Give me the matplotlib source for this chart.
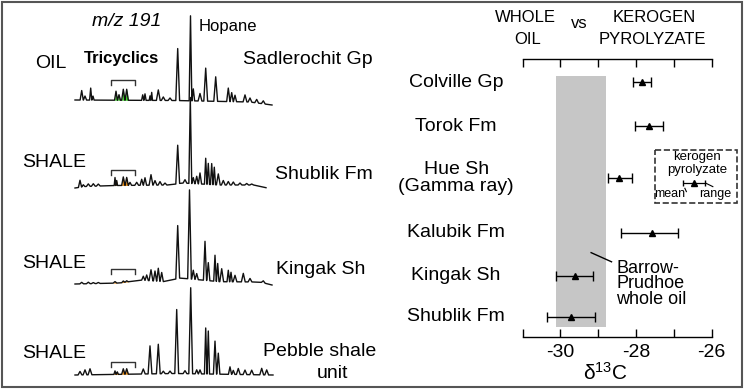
import numpy as np
import matplotlib
matplotlib.use("Agg")
import matplotlib.pyplot as plt
from matplotlib.patches import Rectangle

plt.rcParams["font.family"] = ["Liberation Sans", "DejaVu Sans"]
plt.rcParams["mathtext.fontset"] = "custom"
plt.rcParams["mathtext.rm"] = "Liberation Sans"
plt.rcParams["mathtext.it"] = "Liberation Sans:italic"

# ---- m/z 191 fragmentograms: peak retention (scan units) and height (abundance units)
oil_rt = [6.7, 10, 15.7, 18, 41, 44, 48.3, 51.7, 67.7, 70, 75, 76.7, 83.3, 88.3, 95,
          102.7, 115.5, 118.3, 125, 130.7, 140.7, 153.3, 156.7, 160, 170, 175, 181.7, 188.3]
oil_h = [9.5, 4, 12, 4, 9, 5.5, 11, 11, 5.5, 6.5, 4.5, 8, 10.5, 3.5, 2.5,
         52, 85, 12, 7.5, 33, 24.5, 13.5, 9, 6.5, 7, 4, 3.5, 3]
oil_drift_rt = [0, 100, 175, 197]
oil_drift = [0, -0.5, -2, -5]

shublik_rt = [5, 8.3, 13.3, 18.3, 23.3, 40, 41.7, 48.3, 51.7, 55, 61.7, 66.7, 70, 76, 80, 85, 90,
              102.7, 110, 115.3, 118.3, 121.7, 125, 130.7, 133.3, 136.7, 139.3, 143.3, 148.3,
              153.3, 158.3, 165, 171.7, 176.7]
shublik_h = [7, 2, 2.5, 2.5, 2, 8, 5, 8.5, 8, 3, 3, 6, 7.5, 10.5, 4.5, 3.5, 2,
             38.5, 3.5, 86, 6, 7.5, 11, 26, 21, 21, 17.5, 11, 4.5,
             3.5, 3, 2, 1.5, 1]
shublik_drift_rt = [0, 10, 40, 95, 107, 145, 185, 191]
shublik_drift = [0, 1.5, 2.5, 3, 5, 3, 3, 0.3]

kingak_rt = [6.7, 13.3, 18.3, 23.3, 40, 48.3, 51.7, 68.3, 71.7, 76, 80, 83.3, 86.7,
             102.7, 114.5, 118.3, 121.7, 130, 133.3, 140, 142.7, 146.7, 153.3, 156, 160,
             168.3, 175, 188.3]
kingak_h = [1.5, 1.5, 1, 1, 1.5, 1.5, 1.2, 4, 5.5, 11, 10, 13, 9,
            53, 89, 9, 6, 39, 18, 26, 18, 13, 11.5, 9.5, 6.5,
            8.5, 3.5, 2]
kingak_drift_rt = [0, 45, 65, 90, 105, 145, 185, 197]
kingak_drift = [0, 1, 4, 2.3, 6, 2.3, 2, -1]

pebble_rt = [5, 10, 15, 40, 42.3, 48.3, 51.7, 68.3, 75, 83.3, 88.3, 95, 101.7, 110, 115.7,
             121.7, 125, 130.7, 133.3, 140, 143.3, 155, 158.3, 163.3, 170, 176.7, 186.7, 191.7]
pebble_h = [3.5, 5, 6, 3.5, 2.5, 5.5, 5.5, 5, 28, 29.5, 2.5, 2.5, 64, 3, 86,
            4, 4, 46, 43, 33, 21, 7.5, 4, 6, 4.5, 4.5, 6.5, 5]
pebble_drift_rt = [0, 100, 198]
pebble_drift = [0, 1.5, 0]

trace_end = [197, 191, 197, 198]
tricyclic_window = (38, 54)

# ---- carbon isotopes
units = ["Colville Gp", "Torok Fm", "Hue Sh\n(Gamma ray)", "Kalubik Fm", "Kingak Sh", "Shublik Fm"]
d13c_mean = [-27.85, -27.65, -28.44, -27.58, -29.62, -29.72]
d13c_min = [-28.09, -28.04, -28.74, -28.39, -30.11, -30.37]
d13c_max = [-27.60, -27.30, -28.11, -26.89, -29.14, -29.10]
whole_oil = (-30.13, -28.80)

W, H = 750, 390
fig = plt.figure(figsize=(W / 100, H / 100), dpi=100)


def fxy(x, y):
    return x / W, 1 - y / H


def build(rt, h, drift_rt, drift, end, wmax=1.9):
    pk = sorted(zip(rt, h))
    pos = [p[0] for p in pk]
    xs, ys = [0.0], [0.0]
    for i, (r, hh) in enumerate(pk):
        gl = r - pos[i - 1] if i > 0 else 10
        gr = pos[i + 1] - r if i < len(pk) - 1 else 10
        w = min(wmax, 0.48 * gl, 0.48 * gr)
        xs += [r - w, r, r + w]
        ys += [0, hh, 0]
    xs.append(end)
    ys.append(0)
    xs = np.array(xs)
    base = np.interp(xs, drift_rt, drift)
    return xs, base + np.array(ys), base


# ---- left panel
axl = fig.add_axes([0, 0, 380 / W, 1])
axl.set_xlim(-75, 305)
axl.set_ylim(0, 390)
axl.axis("off")

traces = [(oil_rt, oil_h, oil_drift_rt, oil_drift),
          (shublik_rt, shublik_h, shublik_drift_rt, shublik_drift),
          (kingak_rt, kingak_h, kingak_drift_rt, kingak_drift),
          (pebble_rt, pebble_h, pebble_drift_rt, pebble_drift)]
offsets = [290, 202, 106, 15]
fills = ["#3fdc2a", "#e8890c", "#e8890c", "#e8890c"]
bracket_top = [20, 18, 15, 13]

for (rt, h, drt, dr), end, off, fc, bt in zip(traces, trace_end, offsets, fills, bracket_top):
    xs, ys, base = build(rt, h, drt, dr, end)
    m = (xs >= tricyclic_window[0]) & (xs <= tricyclic_window[1])
    axl.fill_between(xs, base + off, ys + off, where=m, color=fc, lw=0, zorder=1)
    axl.plot(xs, ys + off, color="#111111", lw=1.0, zorder=2)
    axl.plot([36, 36, 60, 60], [off + bt - 5, off + bt, off + bt, off + bt - 5],
             color="#333333", lw=1)

fig.text(*fxy(127, 22), "m/z 191", style="italic", fontsize=14, ha="center", va="center")
fig.text(*fxy(199, 26), "Hopane", fontsize=12, ha="left", va="center")
fig.text(*fxy(51, 63), "OIL", fontsize=14, ha="center", va="center")
fig.text(*fxy(122, 59), "Tricyclics", fontsize=12, fontweight="bold", ha="center", va="center")
fig.text(*fxy(243, 59), "Sadlerochit Gp", fontsize=14, ha="left", va="center")
for y in [162, 263, 353]:
    fig.text(*fxy(54, y), "SHALE", fontsize=14, ha="center", va="center")
fig.text(*fxy(275, 175), "Shublik Fm", fontsize=14, ha="left", va="center")
fig.text(*fxy(276, 270), "Kingak Sh", fontsize=14, ha="left", va="center")
fig.text(*fxy(263, 352), "Pebble shale", fontsize=14, ha="left", va="center")
fig.text(*fxy(332, 373), "unit", fontsize=14, ha="center", va="center")

# ---- right panel
axr = fig.add_axes([522.7 / W, (H - 336.7) / H, 189 / W, 277.4 / H])
axr.set_xlim(-31, -26)
axr.set_ylim(10, 0)
row_y = [0.82, 2.41, 4.28, 6.25, 7.80, 9.28]

axr.fill_betweenx([0.60, 9.65], whole_oil[0], whole_oil[1], color="#c6c6c6", lw=0, zorder=0)
mean = np.array(d13c_mean)
xerr = [mean - np.array(d13c_min), np.array(d13c_max) - mean]
axr.errorbar(mean, row_y, xerr=xerr, fmt="^", color="k", ms=5, capsize=3.5,
             elinewidth=1, capthick=1, zorder=3)

for spine in ["left", "right"]:
    axr.spines[spine].set_visible(False)
axr.spines["top"].set_linewidth(1)
axr.spines["bottom"].set_linewidth(1)
axr.set_yticks([])
axr.set_xticks(range(-31, -25))
axr.set_xticklabels(["", "-30", "", "-28", "", "-26"])
axr.tick_params(axis="x", direction="in", top=True, bottom=True, length=6, width=1,
                labelsize=14, pad=5)
axr.patch.set_alpha(0)

for name, y in zip(units, row_y):
    axr.text(-32.76, y, name, fontsize=14, ha="center", va="center", linespacing=1.0,
             clip_on=False)

# legend key
axr.add_patch(Rectangle((-27.50, 3.27), 2.17, 1.91, fill=False, ls="--", lw=1.2,
                        ec="#333333", clip_on=False))
axr.text(-26.39, 3.52, "kerogen", fontsize=9.5, ha="center", va="center")
axr.text(-26.39, 3.99, "pyrolyzate", fontsize=9.5, ha="center", va="center")
axr.errorbar([-26.47], [4.46], xerr=[[0.29], [0.29]], fmt="^", color="k", ms=4,
             capsize=2.5, elinewidth=0.9, clip_on=False)
axr.text(-27.10, 4.85, "mean", fontsize=9, ha="center", va="center")
axr.text(-25.91, 4.85, "range", fontsize=9, ha="center", va="center", clip_on=False)
axr.plot([-26.71, -26.67], [4.65, 4.77], color="k", lw=0.8)
axr.plot([-26.15, -25.97], [4.47, 4.59], color="k", lw=0.8, clip_on=False)

# whole-oil annotation
axr.plot([-29.19, -28.65], [6.97, 7.30], color="k", lw=1)
axr.text(-28.52, 7.22, "Barrow-\nPrudhoe\nwhole oil", fontsize=13, ha="left", va="top",
         linespacing=0.9)

fig.text(*fxy(605, 373), "δ$^{13}$C", fontsize=15, ha="center", va="center")
fig.text(*fxy(525, 17), "WHOLE", fontsize=12, ha="center", va="center")
fig.text(*fxy(528, 40), "OIL", fontsize=12, ha="center", va="center")
fig.text(*fxy(579, 24), "vs", fontsize=12, ha="center", va="center")
fig.text(*fxy(654, 17), "KEROGEN", fontsize=12, ha="center", va="center")
fig.text(*fxy(652, 40), "PYROLYZATE", fontsize=12, ha="center", va="center")

fig.patches.append(Rectangle((2 / W, 3 / H), 740 / W, 385 / H, transform=fig.transFigure,
                             fill=False, ec="#555555", lw=1.5))

fig.savefig("out.png", dpi=100)
